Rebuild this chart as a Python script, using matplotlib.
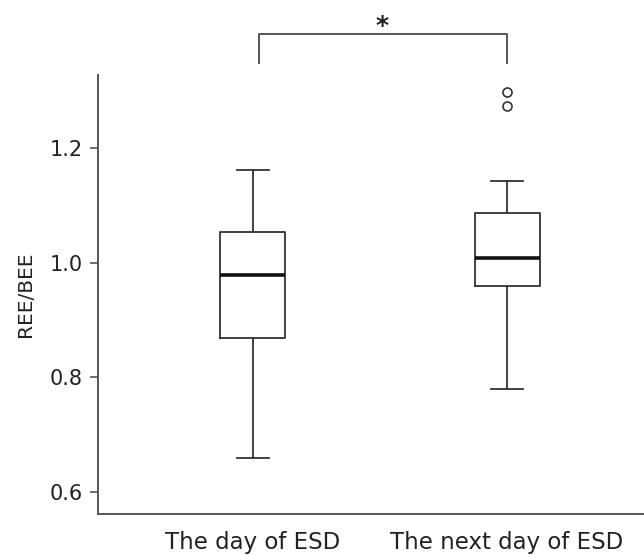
import matplotlib
matplotlib.use("Agg")
import matplotlib.pyplot as plt

categories = ["The day of ESD", "The next day of ESD"]
whislo = [0.659, 0.779]
q1 = [0.869, 0.959]
med = [0.978, 1.008]
q3 = [1.054, 1.086]
whishi = [1.162, 1.143]
fliers = [[], [1.273, 1.298]]
y_ticks = [0.6, 0.8, 1.0, 1.2]
sig_label = "*"

plt.rcParams['font.family'] = ['DejaVu Sans']
fig = plt.figure(figsize=(6.44, 5.55), dpi=100)
ax = fig.add_axes([97.7/644, 1 - 514/555, (644 - 97.7)/644, (514 - 75)/555])

stats = []
for i, c in enumerate(categories):
    stats.append(dict(label=c, med=med[i], q1=q1[i], q3=q3[i],
                      whislo=whislo[i], whishi=whishi[i], fliers=fliers[i]))

lc = "#333333"
ax.bxp(stats, positions=[1, 2], widths=0.256, capwidths=0.126,
       boxprops=dict(color=lc, linewidth=1.3),
       whiskerprops=dict(color=lc, linewidth=1.3),
       capprops=dict(color=lc, linewidth=1.3),
       medianprops=dict(color="#111111", linewidth=2.6),
       flierprops=dict(marker="o", markerfacecolor="none", markeredgecolor=lc,
                       markersize=6.5, markeredgewidth=1.2))

ax.set_xlim(0.389, 2.539)
ax.set_ylim(0.562, 1.327)
ax.set_yticks(y_ticks)
ax.set_yticklabels([f"{v:.1f}" for v in y_ticks], fontsize=15, color="#222222")
ax.set_xticks([1, 2])
ax.set_xticklabels(categories, fontsize=16.5, color="#222222")
ax.tick_params(axis="x", length=0, pad=12)
ax.tick_params(axis="y", length=6, width=1.2, color="#555555", pad=5)
ax.set_ylabel("REE/BEE", fontsize=14.5, color="#222222")
ax.yaxis.set_label_coords(-0.114, 0.5)

for s in ["top", "right"]:
    ax.spines[s].set_visible(False)
for s in ["left", "bottom"]:
    ax.spines[s].set_color("#555555")
    ax.spines[s].set_linewidth(1.4)

# significance bracket
bx = [1.024, 1.024, 2.0, 2.0]
by = [1.348, 1.398, 1.398, 1.348]
ax.plot(bx, by, color="#555555", linewidth=1.4, clip_on=False)
ax.text(1.51, 1.392, sig_label, ha="center", va="bottom", fontsize=18, color="#222222",
        fontweight="bold", clip_on=False)

fig.savefig("out.png", dpi=100)
